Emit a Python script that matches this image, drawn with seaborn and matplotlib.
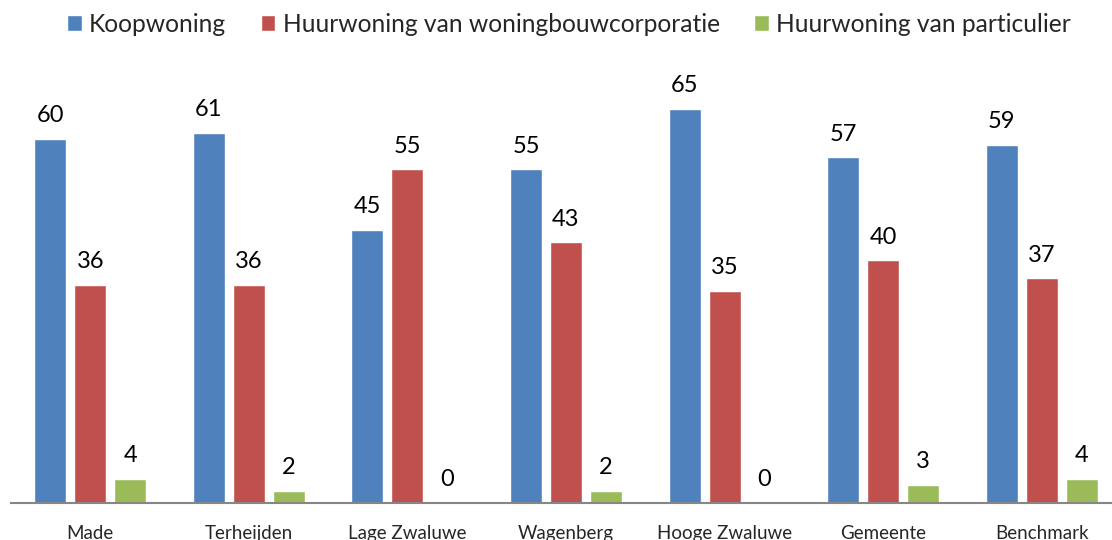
import numpy as np
import pandas as pd
import matplotlib
matplotlib.use('Agg')
import matplotlib.pyplot as plt
import seaborn as sns

# Chart data
gebieden = ['Made', 'Terheijden', 'Lage Zwaluwe', 'Wagenberg', 'Hooge Zwaluwe', 'Gemeente', 'Benchmark']
typen = ['Koopwoning', 'Huurwoning van woningbouwcorporatie', 'Huurwoning van particulier']
koop = [60, 61, 45, 55, 65, 57, 59]
huur_corp = [36, 36, 55, 43, 35, 40, 37]
huur_part = [4, 2, 0, 2, 0, 3, 4]
kleuren = ['#4F81BD', '#C0504D', '#9BBB59']

df = pd.DataFrame({
    'gebied': gebieden * 3,
    'type': [typen[0]] * 7 + [typen[1]] * 7 + [typen[2]] * 7,
    'pct': koop + huur_corp + huur_part,
})

sns.set_style('white')
plt.rcParams['font.family'] = ['Lato', 'DejaVu Sans']

fig = plt.figure(figsize=(11.12, 5.40), dpi=100)
ax = fig.add_axes([11 / 1112, 37 / 540, 1110 / 1112, 443 / 540])

sns.barplot(data=df, x='gebied', y='pct', hue='type', palette=kleuren,
            width=0.756, gap=0.2, ax=ax, saturation=1)

ax.set_xlim(-0.5, 6.5)
ax.set_ylim(0, 73)

# value labels above bars
for cont in ax.containers:
    ax.bar_label(cont, fmt='%d', padding=9, fontsize=17, color='#000000')

# legend on top
handles, labels = ax.get_legend_handles_labels()
ax.get_legend().remove()
fig.legend(handles, labels, loc='center', bbox_to_anchor=(569 / 1112, 1 - 24 / 540),
           ncol=3, frameon=False, fontsize=17.7, handlelength=0.6, handleheight=0.6,
           handletextpad=0.3, columnspacing=1.4)

ax.set_xlabel('')
ax.set_ylabel('')
ax.set_yticks([])
ax.tick_params(axis='x', length=0, pad=16, labelsize=13.5)
for s in ['top', 'right', 'left']:
    ax.spines[s].set_visible(False)
ax.spines['bottom'].set_color('#868686')
ax.spines['bottom'].set_linewidth(1.5)

plt.savefig('out.png', dpi=100)
